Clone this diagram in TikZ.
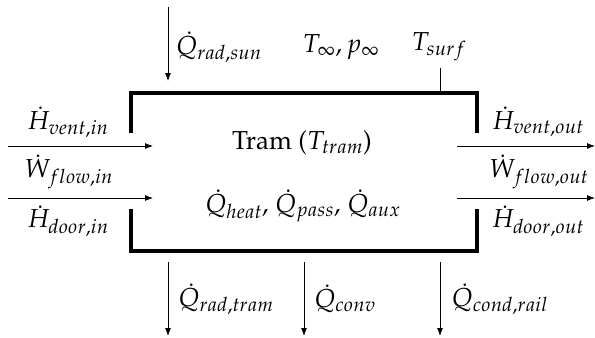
\documentclass[tikz,border=0pt]{standalone}
\usepackage[T1]{fontenc}
\usepackage{mathpazo}
\usetikzlibrary{arrows.meta}
\tikzset{
  wall/.style={line width=3.6bp, line cap=butt, line join=miter},
  flow/.style={line width=0.8bp, -{Latex[length=8bp,width=6bp]}},
  tick/.style={line width=0.8bp},
  lbl/.style={inner sep=0pt, font={\fontsize{26bp}{30bp}\selectfont}},
}
\begin{document}
\begin{tikzpicture}[x=1bp,y=-1bp]
\useasboundingbox (0,0) rectangle (595,337);
% wall corners
\coordinate (tl1) at (131,133);
\coordinate (tl2) at (131,93);
\coordinate (tr2) at (477,93);
\coordinate (tr1) at (477,133);
\coordinate (bl1) at (131,209);
\coordinate (bl2) at (131,251);
\coordinate (br2) at (477,251);
\coordinate (br1) at (477,209);
\draw[wall] (tl1) -- (tl2) -- (tr2) -- (tr1);
\draw[wall] (bl1) -- (bl2) -- (br2) -- (br1);
% top arrow
\coordinate (s0) at (168,7);
\coordinate (s1) at (168,81);
\draw[flow] (s0) -- (s1);
\node[lbl] (qsun) at (219,47) {$\dot{Q}_{rad,sun}$};
\node[lbl] (tinf) at (341,47) {$T_\infty, p_\infty$};
\node[lbl] (tsurf) at (439,47) {$T_{surf}$};
\coordinate (ts0) at (440,68);
\coordinate (ts1) at (440,93);
\draw[tick] (ts0) -- (ts1);
% inside
\node[lbl] (tram) at (302,143) {Tram ($T_{tram}$)};
\node[lbl] (qin) at (303,206) {$\dot{Q}_{heat}$, $\dot{Q}_{pass}$, $\dot{Q}_{aux}$};
% left arrows
\coordinate (l1a) at (8,146);
\coordinate (l1b) at (153,146);
\coordinate (l2a) at (8,198);
\coordinate (l2b) at (153,198);
\draw[flow] (l1a) -- (l1b);
\draw[flow] (l2a) -- (l2b);
\node[lbl] (hvin) at (68,122) {$\dot{H}_{vent,in}$};
\node[lbl] (wfin) at (69,172) {$\dot{W}_{flow,in}$};
\node[lbl] (hdin) at (68,221) {$\dot{H}_{door,in}$};
% right arrows
\coordinate (r1a) at (457,146);
\coordinate (r1b) at (595,146);
\coordinate (r2a) at (457,198);
\coordinate (r2b) at (595,198);
\draw[flow] (r1a) -- (r1b);
\draw[flow] (r2a) -- (r2b);
\node[lbl] (hvout) at (538,122) {$\dot{H}_{vent,out}$};
\node[lbl] (wfout) at (539,172) {$\dot{W}_{flow,out}$};
\node[lbl] (hdout) at (538,221) {$\dot{H}_{door,out}$};
% bottom arrows
\coordinate (b1a) at (168,262);
\coordinate (b1b) at (168,336);
\coordinate (b2a) at (304,262);
\coordinate (b2b) at (304,336);
\coordinate (b3a) at (440,262);
\coordinate (b3b) at (440,336);
\draw[flow] (b1a) -- (b1b);
\draw[flow] (b2a) -- (b2b);
\draw[flow] (b3a) -- (b3b);
\node[lbl] (qrt) at (226,299) {$\dot{Q}_{rad,tram}$};
\node[lbl] (qcv) at (345,299) {$\dot{Q}_{conv}$};
\node[lbl] (qcr) at (500,299) {$\dot{Q}_{cond,rail}$};
\end{tikzpicture}
\end{document}
